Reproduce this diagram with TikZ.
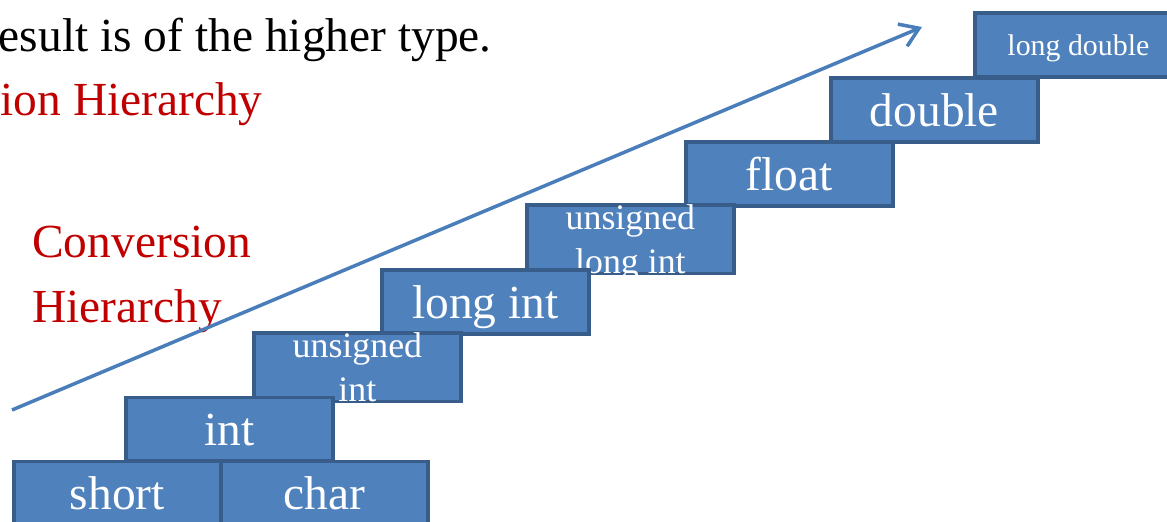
\documentclass[tikz,border=0pt]{standalone}
\usepackage{fontspec}
\setmainfont{Liberation Serif}
\usetikzlibrary{arrows.meta,positioning}

\definecolor{boxblue}{HTML}{4F81BD}
\definecolor{boxline}{HTML}{385D8A}
\definecolor{arrowblue}{HTML}{4A7EBB}
\definecolor{darkred}{HTML}{C00000}

\newcommand{\boxbig}{\fontsize{27}{32}\selectfont}
\newcommand{\boxmid}{\fontsize{20.4}{24.9}\selectfont}
\newcommand{\boxsmall}{\fontsize{17}{20}\selectfont}

\tikzset{
  typebox/.style={draw=boxline,fill=boxblue,line width=2.2pt,text=white,
    minimum width=4.14cm,minimum height=1.28cm,anchor=north west,
    align=center,inner sep=0pt,text depth=0pt},
  arrowline/.style={draw=arrowblue,line width=2pt,
    -{Straight Barb[length=3.6mm,width=4.8mm]}}
}

\begin{document}
\begin{tikzpicture}[x=0.02cm,y=-0.02cm]
	\useasboundingbox (0,0) rectangle (1167,521);

	% headings
	\node[anchor=base east,inner sep=0pt,font=\boxbig] (T1) at (492,51) {esult is of the higher type.};
	\node[anchor=base east,inner sep=0pt,font=\boxbig,text=darkred] (T2) at (263,115) {ion Hierarchy};
	\node[anchor=base west,inner sep=0pt,font=\boxbig,text=darkred] (T3) at (32,257) {Conversion};
	\node[anchor=base west,inner sep=0pt,font=\boxbig,text=darkred] (T4) at (32,322) {Hierarchy};

	% the stairs, top step first so the lower ones lie over it
	\foreach \x/\y/\s/\t [count=\n] in {973/11/\boxsmall/{long double},
			829/76/\boxbig/double, 684/140/\boxbig/float,
			525/203/\boxmid/{unsigned\\long int}, 380/268/\boxbig/{long int},
			252/331/\boxmid/{unsigned\\int}, 124/395.5/\boxbig/int,
			219/459.5/\boxbig/char, 12/459.5/\boxbig/short}
		\node[typebox,font=\s] (N\n) at (\x,\y) {\t};

	\coordinate (low) at (12,410);
	\coordinate (high) at (922,27);
	\draw[arrowline] (low) -- (high);
\end{tikzpicture}
\end{document}
